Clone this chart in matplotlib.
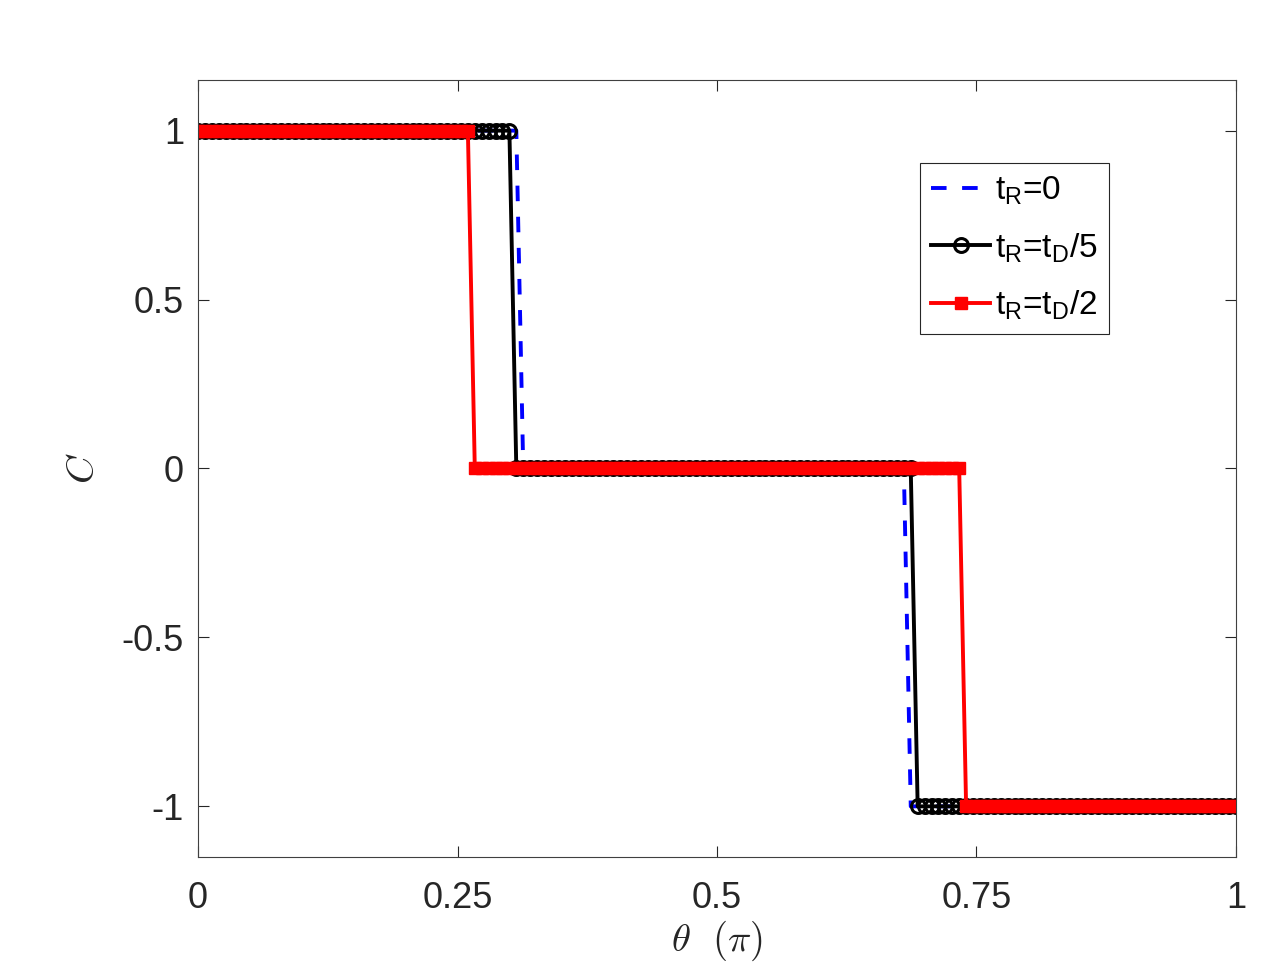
import numpy as np
import matplotlib
matplotlib.use('Agg')
import matplotlib.pyplot as plt

# sample grid in theta (units of pi)
theta = np.linspace(0, 1, 151)

# step levels and the last theta value at each level
levels = [1, 0, -1]
switch_tR0 = [0.307, 0.680]
switch_tD5 = [0.300, 0.687]
switch_tD2 = [0.260, 0.734]

labels = ['t$_\\mathregular{R}$=0', 't$_\\mathregular{R}$=t$_\\mathregular{D}$/5',
          't$_\\mathregular{R}$=t$_\\mathregular{D}$/2']


def step_curve(x, sw):
    return np.select([x <= sw[0] + 1e-6, x <= sw[1] + 1e-6], levels[:2], default=levels[2])


plt.rcParams['font.family'] = 'Liberation Sans'
plt.rcParams['mathtext.fontset'] = 'custom'
plt.rcParams['mathtext.rm'] = 'Liberation Sans'
plt.rcParams['mathtext.it'] = 'Liberation Sans:italic'

fig = plt.figure(figsize=(12.75, 9.75), dpi=100)
ax = fig.add_axes([0.1553, 0.121, 0.8141, 0.797])

ax.plot(theta, step_curve(theta, switch_tR0), '--', color='blue', lw=2.8, dashes=(4, 4), label=labels[0])
ax.plot(theta, step_curve(theta, switch_tD5), '-', color='black', lw=2.8, marker='o',
        markersize=10, markerfacecolor='none', markeredgewidth=2.2, label=labels[1])
ax.plot(theta, step_curve(theta, switch_tD2), '-', color='red', lw=2.8, marker='s',
        markersize=9, markerfacecolor='red', markeredgewidth=1, label=labels[2])

ax.set_xlim(0, 1)
ax.set_ylim(-1.15, 1.15)
ax.set_xticks([0, 0.25, 0.5, 0.75, 1])
ax.set_xticklabels(['0', '0.25', '0.5', '0.75', '1'])
ax.set_yticks([-1, -0.5, 0, 0.5, 1])
ax.set_yticklabels(['-1', '-0.5', '0', '0.5', '1'])

ax.tick_params(direction='in', top=True, right=True, length=8, width=0.8,
               labelsize=26, colors='#262626')
ax.tick_params(axis='x', pad=17)
ax.tick_params(axis='y', pad=10)
for sp in ax.spines.values():
    sp.set_color('#404040')
    sp.set_linewidth(0.8)

ax.set_xlabel(r'$\theta\ \ (\pi)$', fontsize=28, color='#262626', labelpad=2, math_fontfamily='cm')
ax.set_ylabel(r'$C$', fontsize=28, color='#262626', labelpad=14, math_fontfamily='cm')

leg = ax.legend(loc='upper right', bbox_to_anchor=(0.8777, 0.893), borderaxespad=0,
                fontsize=24, fancybox=False, edgecolor='#262626', framealpha=1,
                handlelength=1.75, handletextpad=0.15, borderpad=0.35, labelspacing=0.72)
leg.get_frame().set_linewidth(0.8)

fig.savefig('out.png', dpi=100)
